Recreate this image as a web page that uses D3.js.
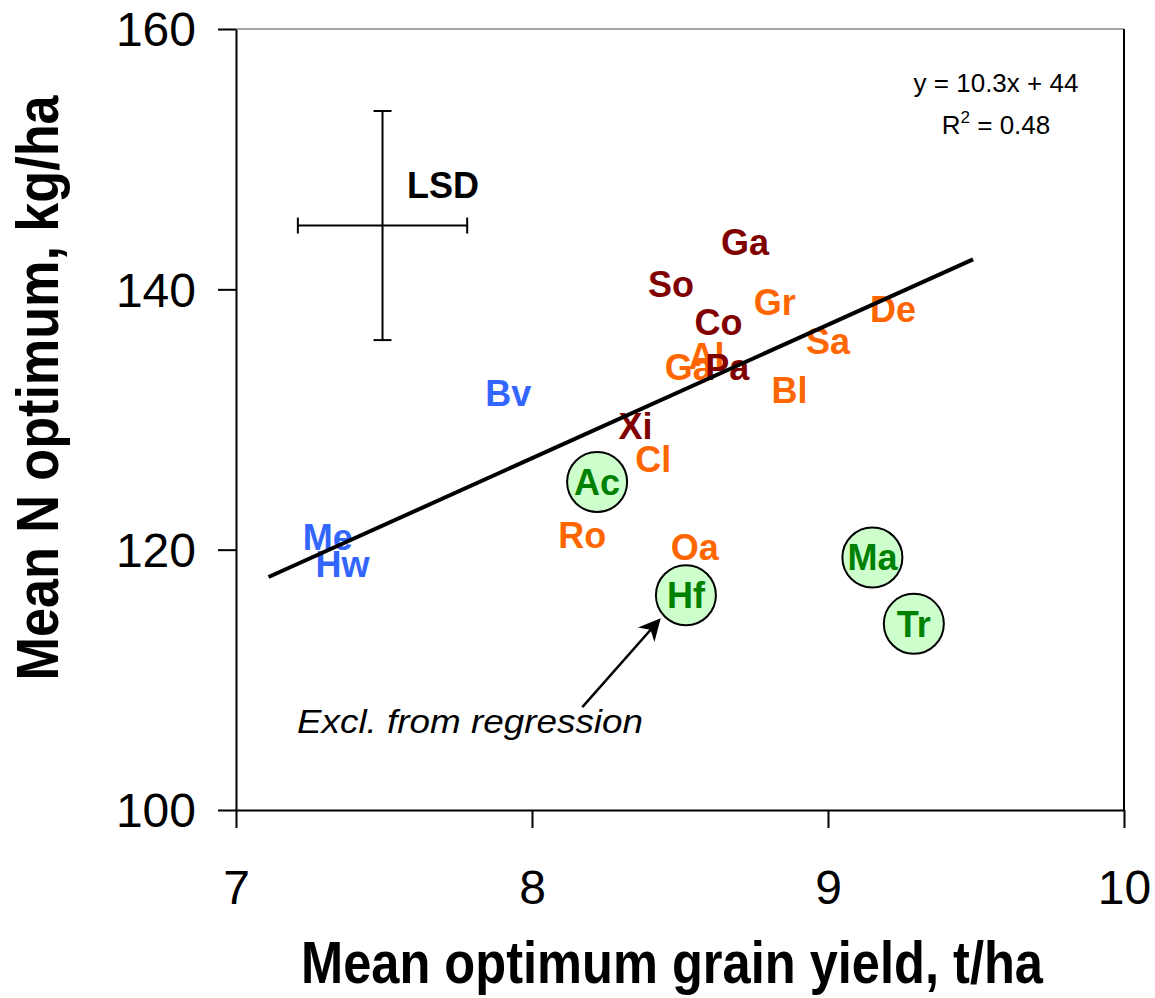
<!DOCTYPE html>
<html>
<head>
<meta charset="utf-8">
<script src="https://cdn.jsdelivr.net/npm/d3@7"></script>
<style>
  body { margin: 0; background: #fff; }
  text { font-family: Arial, "Liberation Sans", sans-serif; }
</style>
</head>
<body>
<svg id="chart" width="1155" height="998"></svg>
<script>
// Sorter: etikett, avkastning (t/ha), N-optimum (kg/ha), grupp
const labels  = ["Me", "Hw", "Bv", "Ro", "Oa", "Cl", "Ga", "Al", "Gr", "Sa", "Bl", "De", "Xi", "Pa", "Co", "So", "Ga", "Ac", "Hf", "Ma", "Tr"];
const yields  = [7.31, 7.36, 7.92, 8.17, 8.55, 8.41, 8.53, 8.59, 8.82, 9.00, 8.87, 9.22, 8.35, 8.66, 8.63, 8.47, 8.72, 8.22, 8.52, 9.15, 9.29];
const nOptima = [121.0, 118.9, 132.0, 121.1, 120.2, 127.0, 134.0, 134.9, 139.0, 136.0, 132.3, 138.5, 129.5, 134.0, 137.5, 140.4, 143.6, 125.2, 116.5, 119.4, 114.3];
const groups  = ["blue", "blue", "blue", "orange", "orange", "orange", "orange", "orange", "orange", "orange", "orange", "orange",
                 "red", "red", "red", "red", "red", "excl", "excl", "excl", "excl"];

const xTicks = [7, 8, 9, 10];
const yTicks = [100, 120, 140, 160];

// Regressionslinje (ändpunkter avlästa)
const regX = [7.11, 9.49];
const regY = [117.9, 142.3];

// LSD-kors: mittpunkt och halva bredder
const lsdCenter = [7.495, 144.9];
const lsdHalf = [0.286, 8.8];

const groupColors = { blue: "#3366ff", orange: "#ff6600", red: "#800000", excl: "#008000" };

const svg = d3.select("#chart");
const x = d3.scaleLinear().domain([7, 10]).range([236, 1124]);
const y = d3.scaleLinear().domain([100, 160]).range([810, 29]);

// Ram (topp och höger)
svg.append("line")
  .attr("x1", x(7)).attr("x2", x(10)).attr("y1", y(160)).attr("y2", y(160))
  .attr("stroke", "#888").attr("stroke-width", 1.5);
svg.append("line")
  .attr("x1", x(10)).attr("x2", x(10)).attr("y1", y(160)).attr("y2", y(100))
  .attr("stroke", "#000").attr("stroke-width", 2);

// Axlar
const gx = svg.append("g")
  .attr("transform", `translate(0,${y(100)})`)
  .call(d3.axisBottom(x).tickValues(xTicks).tickFormat(d3.format("d"))
    .tickSize(18).tickPadding(42).tickSizeOuter(0));
const gy = svg.append("g")
  .attr("transform", `translate(${x(7)},0)`)
  .call(d3.axisLeft(y).tickValues(yTicks).tickFormat(d3.format("d"))
    .tickSize(18).tickPadding(22).tickSizeOuter(0));

[gx, gy].forEach(g => {
  g.select(".domain").attr("stroke", "#000").attr("stroke-width", 2);
  g.selectAll(".tick line").attr("stroke", "#000").attr("stroke-width", 2);
  g.selectAll(".tick text")
    .attr("fill", "#000")
    .style("font-size", "48px")
    .style("font-family", 'Arial, "Liberation Sans", sans-serif');
});
gy.selectAll(".tick text").attr("dy", "0.35em");
gx.selectAll(".tick text").attr("dy", "0.71em");

// Axeltitlar
svg.append("text")
  .attr("x", 672).attr("y", 983)
  .attr("text-anchor", "middle")
  .attr("textLength", 742).attr("lengthAdjust", "spacingAndGlyphs")
  .style("font-size", "60px").style("font-weight", "bold")
  .text("Mean optimum grain yield, t/ha");

svg.append("text")
  .attr("transform", "translate(58,388) rotate(-90)")
  .attr("text-anchor", "middle")
  .attr("textLength", 585).attr("lengthAdjust", "spacingAndGlyphs")
  .style("font-size", "60px").style("font-weight", "bold")
  .text("Mean N optimum, kg/ha");

// LSD-kors
const lsd = svg.append("g").attr("stroke", "#000").attr("stroke-width", 2);
const cx = x(lsdCenter[0]), cy = y(lsdCenter[1]);
const hx0 = x(lsdCenter[0] - lsdHalf[0]), hx1 = x(lsdCenter[0] + lsdHalf[0]);
const vy0 = y(lsdCenter[1] + lsdHalf[1]), vy1 = y(lsdCenter[1] - lsdHalf[1]);
lsd.append("line").attr("x1", hx0).attr("x2", hx1).attr("y1", cy).attr("y2", cy);
lsd.append("line").attr("x1", cx).attr("x2", cx).attr("y1", vy0).attr("y2", vy1);
lsd.append("line").attr("x1", hx0).attr("x2", hx0).attr("y1", cy - 8).attr("y2", cy + 8);
lsd.append("line").attr("x1", hx1).attr("x2", hx1).attr("y1", cy - 8).attr("y2", cy + 8);
lsd.append("line").attr("x1", cx - 9).attr("x2", cx + 9).attr("y1", vy0).attr("y2", vy0);
lsd.append("line").attr("x1", cx - 9).attr("x2", cx + 9).attr("y1", vy1).attr("y2", vy1);
svg.append("text")
  .attr("x", 407).attr("y", 198)
  .style("font-size", "36px").style("font-weight", "bold")
  .text("LSD");

// Ekvation
svg.append("text")
  .attr("x", 996).attr("y", 92)
  .attr("text-anchor", "middle")
  .style("font-size", "26px")
  .text("y = 10.3x + 44");
const r2 = svg.append("text")
  .attr("x", 996).attr("y", 134)
  .attr("text-anchor", "middle")
  .style("font-size", "26px");
r2.append("tspan").text("R");
r2.append("tspan").attr("dy", -11).style("font-size", "17px").text("2");
r2.append("tspan").attr("dy", 11).text(" = 0.48");

// Punkter
const data = labels.map((l, i) => ({ label: l, x: yields[i], y: nOptima[i], group: groups[i] }));
const order = { orange: 0, blue: 1, red: 2, excl: 3 };
data.sort((a, b) => order[a.group] - order[b.group]);

const gPts = svg.append("g");
data.filter(d => d.group === "excl").forEach(d => {
  gPts.append("circle")
    .attr("cx", x(d.x)).attr("cy", y(d.y)).attr("r", 30)
    .attr("fill", "#ccffcc").attr("stroke", "#000").attr("stroke-width", 2);
});
gPts.selectAll("text.pt")
  .data(data)
  .join("text")
  .attr("class", "pt")
  .attr("x", d => x(d.x))
  .attr("y", d => y(d.y))
  .attr("dy", "0.36em")
  .attr("text-anchor", "middle")
  .attr("fill", d => groupColors[d.group])
  .style("font-size", "36px")
  .style("font-weight", "bold")
  .text(d => d.label);

// Regressionslinje
svg.append("line")
  .attr("x1", x(regX[0])).attr("y1", y(regY[0]))
  .attr("x2", x(regX[1])).attr("y2", y(regY[1]))
  .attr("stroke", "#000").attr("stroke-width", 4);

// Pil och anteckning
svg.append("defs").append("marker")
  .attr("id", "arrow")
  .attr("viewBox", "0 0 10 10")
  .attr("refX", 9).attr("refY", 5)
  .attr("markerWidth", 26).attr("markerHeight", 22)
  .attr("markerUnits", "userSpaceOnUse")
  .attr("orient", "auto")
  .append("path").attr("d", "M0,0 L10,5 L0,10 L3,5 Z").attr("fill", "#000");

svg.append("line")
  .attr("x1", x(8.17)).attr("y1", y(107.9))
  .attr("x2", x(8.43)).attr("y2", y(114.6))
  .attr("stroke", "#000").attr("stroke-width", 2.5)
  .attr("marker-end", "url(#arrow)");

svg.append("text")
  .attr("x", 297).attr("y", 733)
  .attr("textLength", 346).attr("lengthAdjust", "spacingAndGlyphs")
  .style("font-size", "33px").style("font-style", "italic")
  .text("Excl. from regression");
</script>
</body>
</html>
